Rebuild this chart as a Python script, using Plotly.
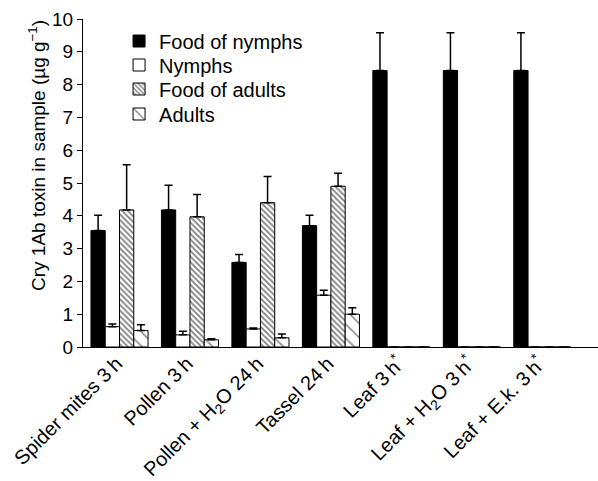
import plotly.graph_objects as go

categories = [
    "Spider mites 3\u2009h",
    "Pollen 3\u2009h",
    "Pollen + H<sub>2</sub>O 24\u2009h",
    "Tassel 24\u2009h",
    "Leaf 3\u2009h<sup>*</sup>",
    "Leaf + H<sub>2</sub>O 3\u2009h<sup>*</sup>",
    "Leaf + E.k. 3\u2009h<sup>*</sup>",
]

food_nymphs = [3.55, 4.18, 2.58, 3.70, 8.43, 8.43, 8.43]
food_nymphs_err = [0.47, 0.75, 0.24, 0.32, 1.15, 1.15, 1.15]

nymphs = [0.62, 0.37, 0.55, 1.58, 0, 0, 0]
nymphs_err = [0.08, 0.11, 0.03, 0.15, 0, 0, 0]

food_adults = [4.18, 3.97, 4.40, 4.90, 0, 0, 0]
food_adults_err = [1.38, 0.68, 0.80, 0.40, 0, 0, 0]

adults = [0.50, 0.22, 0.28, 1.00, 0, 0, 0]
adults_err = [0.18, 0.03, 0.12, 0.20, 0, 0, 0]

y_title = "Cry 1Ab toxin in sample (µg g<sup>−1</sup>)"

FONT = "Liberation Sans, Arial, sans-serif"

def err(vals):
    return dict(type="data", array=vals, arrayminus=[0] * len(vals), symmetric=False,
                color="black", thickness=1.5, width=4, visible=True)

fig = go.Figure()
fig.add_trace(go.Bar(name="Food of nymphs", x=categories, y=food_nymphs, legend="legend",
                     marker=dict(color="black", line=dict(color="black", width=1)),
                     error_y=err(food_nymphs_err)))
fig.add_trace(go.Bar(name="Nymphs", x=categories, y=nymphs, legend="legend2",
                     marker=dict(color="white", line=dict(color="black", width=1)),
                     error_y=err(nymphs_err)))
fig.add_trace(go.Bar(name="Food of adults", x=categories, y=food_adults, legend="legend3",
                     marker=dict(color="white", line=dict(color="black", width=1),
                                 pattern=dict(shape="\\", fgcolor="black", bgcolor="white",
                                              size=4, solidity=0.45)),
                     error_y=err(food_adults_err)))
fig.add_trace(go.Bar(name="Adults", x=categories, y=adults, legend="legend4",
                     marker=dict(color="white", line=dict(color="black", width=1),
                                 pattern=dict(shape="\\", fgcolor="black", bgcolor="white",
                                              size=10, solidity=0.15)),
                     error_y=err(adults_err)))

def leg(ypix):
    return dict(x=0.070, y=1 - (ypix - 19) / 328, xanchor="left", yanchor="middle",
                bgcolor="rgba(0,0,0,0)", font=dict(size=20, family=FONT))

fig.update_layout(
    width=598, height=481,
    margin=dict(l=83, r=0, t=19, b=134),
    paper_bgcolor="white", plot_bgcolor="white",
    barmode="group", bargap=0.19, bargroupgap=0,
    font=dict(family=FONT, size=19, color="black"),
    showlegend=True,
    legend=leg(41), legend2=leg(65), legend3=leg(89), legend4=leg(114),
    xaxis=dict(range=[-0.518, 6.79], showline=True, linecolor="black", linewidth=1,
               ticks="", tickangle=-45, showgrid=False, zeroline=False, automargin=False,
               tickfont=dict(size=20), ticklabelshift=-3, ticklabelstandoff=-4),
    yaxis=dict(range=[0, 10], dtick=1, showline=True, linecolor="black", linewidth=1,
               ticks="outside", ticklen=5, tickwidth=1, tickcolor="black",
               showgrid=False, zeroline=False, automargin=False, tickfont=dict(size=19)),
    annotations=[dict(text=y_title, textangle=-90, xref="paper", yref="paper",
                      x=(37 - 83) / 515, y=1 - (156 - 19) / 328,
                      xanchor="center", yanchor="middle", showarrow=False,
                      font=dict(size=19, family=FONT))],
)

fig.write_html("out.html")
